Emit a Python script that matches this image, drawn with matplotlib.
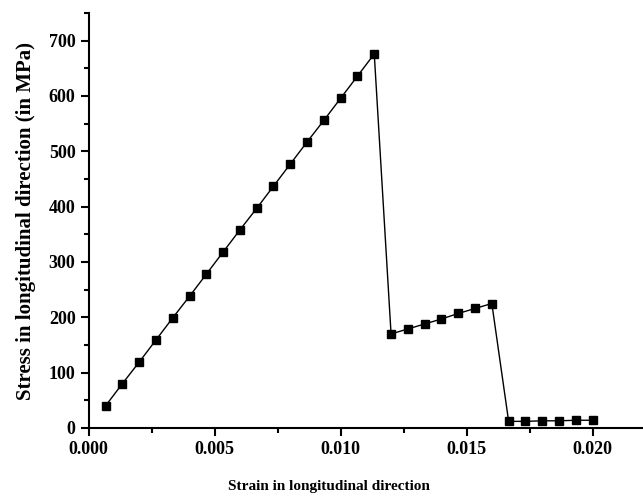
import matplotlib
matplotlib.use("Agg")
import matplotlib.pyplot as plt
from matplotlib.ticker import MultipleLocator

# Strain values (longitudinal), step of 1/1500
strain = [
    0.000667, 0.001333, 0.002000, 0.002667, 0.003333, 0.004000, 0.004667,
    0.005333, 0.006000, 0.006667, 0.007333, 0.008000, 0.008667, 0.009333,
    0.010000, 0.010667, 0.011333,
    0.012000, 0.012667, 0.013333, 0.014000, 0.014667, 0.015333, 0.016000,
    0.016667, 0.017333, 0.018000, 0.018667, 0.019333, 0.020000,
]
# Stress values in MPa
stress = [
    40, 80, 119, 159, 199, 238, 278,
    318, 358, 397, 437, 477, 517, 556,
    596, 636, 676,
    170, 179, 188, 197, 207, 216, 225,
    12, 12, 13, 13, 14, 14,
]

plt.rcParams["font.family"] = ["Liberation Serif", "DejaVu Serif"]
plt.rcParams["font.weight"] = "bold"

fig = plt.figure(figsize=(6.43, 5.0), dpi=100)
ax = fig.add_axes([0.138, 0.144, 0.862, 0.830])

ax.plot(strain, stress, color="black", lw=1.0, marker="s", markersize=6.3,
        markerfacecolor="black", markeredgecolor="black")

ax.set_xlim(0, 0.022)
ax.set_ylim(0, 750)
ax.xaxis.set_major_locator(MultipleLocator(0.005))
ax.xaxis.set_minor_locator(MultipleLocator(0.0025))
ax.yaxis.set_major_locator(MultipleLocator(100))
ax.yaxis.set_minor_locator(MultipleLocator(50))
ax.xaxis.set_major_formatter(matplotlib.ticker.FormatStrFormatter("%.3f"))

for side in ["top", "right"]:
    ax.spines[side].set_visible(False)
for side in ["left", "bottom"]:
    ax.spines[side].set_linewidth(1.5)

ax.tick_params(which="major", direction="out", length=6, width=1.5, labelsize=13)
ax.tick_params(which="minor", direction="out", length=3.5, width=1.5)
for lbl in ax.get_xticklabels() + ax.get_yticklabels():
    lbl.set_fontweight("bold")

ax.set_xlabel("Strain in longitudinal direction", fontsize=11, fontweight="bold",
              labelpad=16)
ax.xaxis.label.set_x(0.433)
ax.set_ylabel("Stress in longitudinal direction (in MPa)", fontsize=15,
              fontweight="bold", labelpad=9)

fig.savefig("out.png", dpi=100)
